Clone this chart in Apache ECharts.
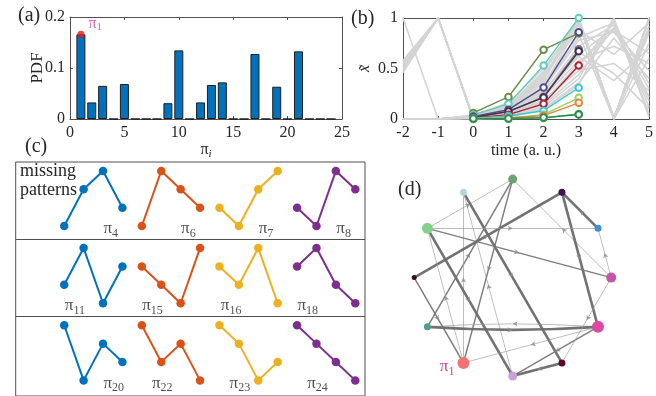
<!DOCTYPE html>
<html>
<head>
<meta charset="utf-8">
<script src="https://cdn.jsdelivr.net/npm/echarts@6/dist/echarts.min.js"></script>
<style>
  html, body { margin: 0; padding: 0; background: #fff; }
  #chart { width: 656px; height: 396px; }
</style>
</head>
<body>
<div id="chart"></div>
<script>
// ---------- (a) probability of each ordinal pattern ----------
const patternIndex = [1, 2, 3, 4, 5, 6, 7, 8, 9, 10, 11, 12, 13, 14, 15, 16, 17, 18, 19, 20, 21, 22, 23, 24];
const pdfValues = [0.166, 0.0325, 0.065, 0, 0.0686, 0, 0, 0, 0.031, 0.1345, 0, 0.0325,
                   0.0667, 0.0718, 0, 0, 0.1275, 0, 0.0633, 0, 0.1326, 0, 0, 0];
const pdfTicks = [0, 0.1, 0.2];
const indexTicks = [0, 5, 10, 15, 20, 25];

// ---------- (b) sliding windows of the series ----------
const times = [-2, -1, 0, 1, 2, 3, 4, 5];
const grayTraces = [
  [0.46, 1, 0.00, 0.04, 0.16, 0.52, 0.96, 0.12],
  [0.48, 1, 0.01, 0.05, 0.22, 0.64, 0.90, 0.30],
  [0.50, 1, 0.00, 0.03, 0.12, 0.40, 1.00, 0.05],
  [0.52, 1, 0.02, 0.07, 0.30, 0.78, 0.86, 0.48],
  [0.54, 1, 0.00, 0.06, 0.26, 0.72, 0.93, 0.22],
  [0.56, 1, 0.01, 0.09, 0.36, 0.84, 0.00, 1.00],
  [0.58, 1, 0.00, 0.02, 0.09, 0.34, 0.98, 0.02],
  [1.00, 0, 0.03, 0.11, 0.42, 0.97, 0.00, 1.00],
  [0.00, 0, 0.02, 0.10, 0.40, 1.00, 0.00, 0.98],
  [0.00, 0, 0.03, 0.13, 0.47, 0.99, 0.00, 0.92],
  [0.00, 0, 0.04, 0.16, 0.50, 0.95, 0.00, 1.00],
  [0.00, 0, 0.01, 0.08, 0.33, 0.93, 0.02, 0.85],
  [0.00, 0, 0.02, 0.06, 0.24, 0.62, 0.38, 0.70],
  [0.00, 0, 0.01, 0.05, 0.19, 0.48, 0.55, 0.28],
  [0.00, 0, 0.03, 0.12, 0.44, 0.88, 0.64, 0.95],
  [0.00, 0, 0.01, 0.04, 0.14, 0.44, 0.90, 0.18],
  [0.00, 0, 0.02, 0.10, 0.38, 0.96, 0.00, 0.60],
  [0.00, 0, 0.00, 0.03, 0.10, 0.36, 0.80, 0.40],
  [0.00, 0, 0.02, 0.07, 0.28, 0.66, 0.45, 0.10],
  [0.00, 0, 0.01, 0.06, 0.21, 0.58, 0.72, 0.55],
  [0.00, 0, 0.03, 0.14, 0.46, 1.00, 0.00, 0.75],
  [0.00, 0, 0.02, 0.09, 0.31, 0.81, 0.95, 0.35],
  [0.00, 0, 0.01, 0.05, 0.17, 0.55, 0.88, 0.65],
  [0.00, 0, 0.03, 0.11, 0.41, 0.98, 0.02, 0.88]
];
const risingTimes = [0, 1, 2, 3];
const risingTraces = [
  [0.060, 0.218, 0.686, 0.850],
  [0.040, 0.150, 0.530, 1.000],
  [0.025, 0.092, 0.313, 0.860],
  [0.020, 0.070, 0.220, 0.690],
  [0.015, 0.075, 0.214, 0.670],
  [0.010, 0.043, 0.150, 0.530],
  [0.008, 0.030, 0.082, 0.310],
  [0.003, 0.010, 0.043, 0.210],
  [0.002, 0.010, 0.033, 0.160],
  [0.000, 0.003, 0.010, 0.050],
  [0.004, 0.006, 0.014, 0.045]
];
const timeTicks = [-2, -1, 0, 1, 2, 3, 4, 5];
const xTicks = [0, 0.5, 1];

// ---------- (c) patterns that never occur ----------
const missingNames = ['4', '6', '7', '8', '11', '15', '16', '18', '20', '22', '23', '24'];
const missingRanks = [
  [1, 3, 4, 2], [1, 4, 3, 2], [2, 1, 3, 4], [2, 1, 4, 3],
  [2, 4, 1, 3], [3, 2, 1, 4], [3, 2, 4, 1], [3, 4, 2, 1],
  [4, 1, 3, 2], [4, 2, 3, 1], [4, 3, 1, 2], [4, 3, 2, 1]
];

// ---------- (d) transition network between observed patterns ----------
const nodeSteps = [0, 1, 2, 3, 4, 5, 6, 7, 8, 9, 10, 11];   // position on the ring, in 30 degree steps
const transitions = [
  [5, 3, 1], [0, 3, 1], [7, 3, 2], [3, 8, 2], [4, 10, 3], [8, 4, 1],
  [9, 4, 1], [6, 2, 3], [1, 2, 3], [2, 11, 3], [5, 0, 2], [5, 1, 1],
  [5, 9, 3], [8, 5, 1], [6, 8, 2], [11, 7, 1], [7, 11, 3], [11, 9, 2],
  [11, 8, 1], [0, 10, 1], [0, 1, 1], [10, 9, 3]
];                                                          // [from, to, strength class]

// ---------- styling ----------
const SERIF = 'Liberation Serif';
const INK = '#262626';
const FRAME = '#505050';
const LINE_COLORS = ['#0072BD', '#D95319', '#EDB120', '#7E2F8E'];
const RISING_COLORS = ['#6b8c4a', '#5fcdbd', '#4e4e8c', '#7e6e82', '#3e3150', '#b0232f',
                       '#3fc6df', '#96d35a', '#e8843a', '#45c046', '#2e8b57'];
const NODE_COLORS = ['#c455ab', '#3d8fd1', '#3f1054', '#6ba374', '#b3d4e3', '#84d08f',
                     '#3d0b1f', '#4f9d8b', '#f27272', '#c8a2d4', '#5c0c24', '#dc49a2'];
const NODE_SIZES = [10, 7, 7, 9, 7, 11, 5, 7, 12, 9, 7, 12];
const EDGE_WIDTH = { 1: 0.7, 2: 1.5, 3: 2.6 };
const EDGE_COLOR = { 1: '#9c9c9c', 2: '#777', 3: '#6a6a6a' };
const PINK = '#c8449e';

const ROW_STEP = 4.2;
const LABEL_SLOT = [2.4, 2.4, 2.4, 2.4, 0.55, 0.55, 0.6, 0.55, 2.55, 1.05, 1.05, 1.05];

const piRich = {
  p: { fontFamily: SERIF, fontSize: 17, color: INK },
  s: { fontFamily: SERIF, fontSize: 12, color: INK, padding: [10, 0, 0, 0] }
};

function frameAxes(gridIndex, xr, yr, showX, showY) {
  const common = {
    type: 'value', gridIndex,
    axisLine: { show: true, onZero: false, lineStyle: { color: FRAME, width: 1 } },
    axisTick: { show: true, inside: true, length: 3, lineStyle: { color: FRAME } },
    splitLine: { show: false }
  };
  const lab = { fontFamily: SERIF, fontSize: 16, color: INK };
  return {
    x: [
      Object.assign({}, common, { position: 'bottom', min: xr[0], max: xr[1], interval: xr[2],
        axisLabel: Object.assign({ show: showX, margin: 6 }, lab) }),
      Object.assign({}, common, { position: 'top', min: xr[0], max: xr[1], interval: xr[2],
        axisLabel: { show: false } })
    ],
    y: [
      Object.assign({}, common, { position: 'left', min: yr[0], max: yr[1], interval: yr[2],
        axisLabel: Object.assign({ show: showY, margin: 5 }, lab) }),
      Object.assign({}, common, { position: 'right', min: yr[0], max: yr[1], interval: yr[2],
        axisLabel: { show: false } })
    ]
  };
}

const axA = frameAxes(0, [indexTicks[0], indexTicks[indexTicks.length - 1], 5], [pdfTicks[0], pdfTicks[2], 0.1], true, true);
axA.x[0].name = '{p|π}{i|i}';
axA.x[0].nameLocation = 'middle';
axA.x[0].nameGap = 21;
axA.x[0].nameTextStyle = { rich: { p: { fontFamily: SERIF, fontSize: 16, color: INK },
  i: { fontFamily: SERIF, fontStyle: 'italic', fontSize: 11, color: INK, padding: [8, 0, 0, 0] } } };
axA.y[0].axisLabel.formatter = v => (v === 0 ? '0' : String(v));

const axB = frameAxes(1, [timeTicks[0], timeTicks[timeTicks.length - 1], 1], [xTicks[0], xTicks[2], 0.5], true, true);
axB.x[0].name = 'time (a. u.)';
axB.x[0].nameLocation = 'middle';
axB.x[0].nameGap = 24;
axB.x[0].nameTextStyle = { fontFamily: SERIF, fontSize: 16, color: INK };
axB.y[0].name = 'x\u0303';
axB.y[0].nameLocation = 'middle';
axB.y[0].nameGap = 30;
axB.y[0].nameTextStyle = { fontFamily: SERIF, fontStyle: 'italic', fontSize: 16, color: INK };

const hidden = (gridIndex, min, max) => ({
  type: 'value', gridIndex, min, max, show: false,
  axisLine: { show: false }, axisTick: { show: false }, axisLabel: { show: false }, splitLine: { show: false }
});

const series = [];

// (a) bars
series.push({
  type: 'bar', xAxisIndex: 0, yAxisIndex: 0, barWidth: 9, silent: true,
  data: patternIndex.map((p, i) => [p, pdfValues[i]]),
  itemStyle: { color: '#0072BD', borderColor: '#1e1e1e', borderWidth: 1 }
});
series.push({
  type: 'scatter', xAxisIndex: 0, yAxisIndex: 0, symbol: 'circle', symbolSize: 7, silent: true, z: 5,
  data: [[patternIndex[0], pdfValues[0]]],
  itemStyle: { color: '#e8161e' },
  label: { show: true, position: 'right', distance: 4, offset: [0, -11], formatter: '{p|π}{s|1}',
    rich: { p: { fontFamily: SERIF, fontSize: 16, color: PINK }, s: { fontFamily: SERIF, fontSize: 11, color: PINK, padding: [8, 0, 0, 0] } } }
});

// (b) gray windows then highlighted rising windows
grayTraces.forEach(tr => series.push({
  type: 'line', xAxisIndex: 2, yAxisIndex: 2, silent: true, symbol: 'none',
  data: times.map((t, k) => [t, tr[k]]),
  lineStyle: { color: '#d4d4d4', width: 1.6 }
}));
risingTraces.forEach((tr, i) => series.push({
  type: 'line', xAxisIndex: 2, yAxisIndex: 2, silent: true, symbol: 'emptyCircle', symbolSize: 6.5, z: 4,
  data: risingTimes.map((t, k) => [t, tr[k]]),
  lineStyle: { color: RISING_COLORS[i], width: 1.4 },
  itemStyle: { color: RISING_COLORS[i], borderWidth: 1.4 }
}));

// (c) missing patterns, four per row
missingRanks.forEach((ranks, p) => {
  const row = Math.floor(p / 4), col = p % 4;
  const s = {
    type: 'line', xAxisIndex: 4, yAxisIndex: 4, silent: true, symbol: 'circle', symbolSize: 8.5,
    data: ranks.map((r, k) => [col * 4 + k, r - row * ROW_STEP]),
    lineStyle: { color: LINE_COLORS[col], width: 2 },
    itemStyle: { color: LINE_COLORS[col] }
  };
  if (p === 0) {
    s.markLine = {
      silent: true, symbol: 'none', label: { show: false },
      lineStyle: { color: FRAME, width: 1, type: 'solid' },
      data: [{ yAxis: 0.3 }, { yAxis: 0.3 - ROW_STEP }]
    };
  }
  series.push(s);
});
series.push({
  type: 'scatter', xAxisIndex: 4, yAxisIndex: 4, silent: true, symbolSize: 0,
  data: missingNames.map((n, p) => [ (p % 4) * 4 + LABEL_SLOT[p], 0.85 - Math.floor(p / 4) * ROW_STEP ]),
  label: { show: true, position: 'inside', formatter: d => '{p|π}{s|' + missingNames[d.dataIndex] + '}', rich: piRich }
});

// (d) transition network on a ring
const ringPos = nodeSteps.map(s => [Math.cos(s * Math.PI / 6), Math.sin(s * Math.PI / 6)]);
const CURVE = -0.035;
const isPair = (a, b) => transitions.some(t => t[0] === b && t[1] === a);
series.push({
  type: 'graph', coordinateSystem: 'cartesian2d', xAxisIndex: 5, yAxisIndex: 5,
  layout: 'none', silent: true, z: 3,
  data: nodeSteps.map((s, i) => ({
    name: 'n' + i, value: ringPos[i], symbolSize: NODE_SIZES[i],
    itemStyle: { color: NODE_COLORS[i] },
    label: i === 8 ? { show: true, position: 'left', distance: 3, offset: [0, 4], formatter: '{p|π}{s|1}',
      rich: { p: { fontFamily: SERIF, fontSize: 17, color: PINK }, s: { fontFamily: SERIF, fontSize: 12, color: PINK, padding: [9, 0, 0, 0] } } } : { show: false }
  })),
  links: transitions.map(([a, b, w]) => ({
    source: 'n' + a, target: 'n' + b,
    lineStyle: { color: EDGE_COLOR[w], width: EDGE_WIDTH[w], opacity: 0.95, curveness: isPair(a, b) ? CURVE : 0 }
  })),
  edgeSymbol: ['none', 'none']
});
series.push({
  type: 'scatter', xAxisIndex: 5, yAxisIndex: 5, silent: true, symbol: 'arrow', symbolSize: [4, 5], z: 4,
  itemStyle: { color: '#8a8a8a' },
  data: transitions.map(([a, b]) => {
    const p1 = ringPos[a], p2 = ringPos[b];
    let mx = (p1[0] + p2[0]) / 2, my = (p1[1] + p2[1]) / 2;
    if (isPair(a, b)) {
      mx += 0.5 * CURVE * (p1[1] - p2[1]);
      my += 0.5 * CURVE * (p2[0] - p1[0]);
    }
    const ang = Math.atan2(p2[1] - p1[1], p2[0] - p1[0]) * 180 / Math.PI;
    return { value: [mx, my], symbolRotate: ang - 90 };
  })
});

const panelLabel = (text, x, y) => ({
  type: 'text', left: x, top: y, silent: true,
  style: { text, fontFamily: SERIF, fontSize: 20, fill: INK }
});

const option = {
  animation: false,
  backgroundColor: '#fff',
  grid: [
    { left: 70, top: 17, width: 272, height: 102 },
    { left: 403, top: 18, width: 248, height: 101 },
    { left: 15.7, top: 162, width: 349.3, height: 240.05, show: true, borderColor: FRAME, borderWidth: 1, backgroundColor: 'transparent' },
    { left: 394.5, top: 159.4, width: 236.4, height: 236.4 }
  ],
  xAxis: [axA.x[0], axA.x[1], axB.x[0], axB.x[1], hidden(2, -2.5, 15.5), hidden(3, -1.2, 1.2)],
  yAxis: [axA.y[0], axA.y[1], axB.y[0], axB.y[1], hidden(2, -8.25, 4.485), hidden(3, -1.2, 1.2)],
  series,
  graphic: [
    panelLabel('(a)', 18, 6),
    panelLabel('(b)', 351, 9),
    panelLabel('(c)', 25, 137),
    panelLabel('(d)', 398, 180),
    // y-axis title of (a), rotated to read upwards
    { type: 'text', x: 38, y: 68, rotation: Math.PI / 2, silent: true,
      style: { text: 'PDF', fontFamily: SERIF, fontSize: 17, fill: INK, align: 'center', verticalAlign: 'middle' } },
    { type: 'text', left: 20, top: 162, silent: true,
      style: { text: 'missing\npatterns', fontFamily: SERIF, fontSize: 18, lineHeight: 19, fill: INK } }
  ]
};

const chart = echarts.init(document.getElementById('chart'), null, { renderer: 'canvas' });
chart.setOption(option);
</script>
</body>
</html>
